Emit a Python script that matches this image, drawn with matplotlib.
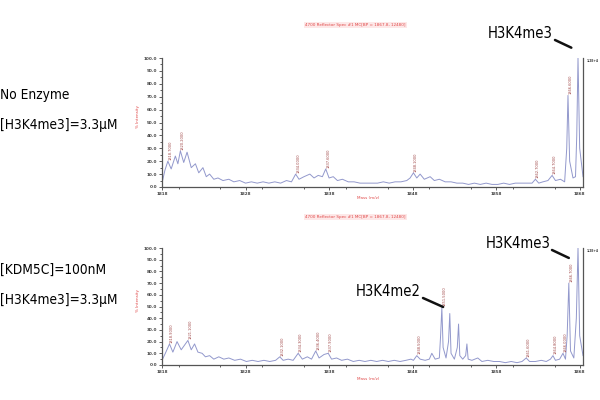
import numpy as np
import matplotlib.pyplot as plt
from matplotlib import font_manager as fm
from matplotlib.ticker import MultipleLocator

# spectrum traces (m/z, % intensity)
mz_top = [1818.0, 1818.35, 1818.7, 1819.1, 1819.6, 1819.9, 1820.2, 1820.6, 1821.0, 1821.5,
          1822.0, 1822.4, 1822.9, 1823.3, 1823.7, 1824.2, 1824.7, 1825.3, 1826.0, 1826.6,
          1827.3, 1828.0, 1828.7, 1829.4, 1830.1, 1830.8, 1831.5, 1832.2, 1832.9, 1833.5,
          1834.0, 1834.4, 1835.0, 1835.7, 1836.2, 1836.7, 1837.2, 1837.6, 1838.0, 1838.5,
          1839.0, 1839.6, 1840.3, 1841.0, 1841.7, 1842.4, 1843.1, 1843.8, 1844.5, 1845.2,
          1845.9, 1846.6, 1847.3, 1847.7, 1848.1, 1848.5, 1848.9, 1849.4, 1850.1, 1850.6,
          1851.2, 1851.9, 1852.6, 1853.3, 1854.0, 1854.7, 1855.4, 1856.1, 1856.8, 1857.5,
          1858.2, 1858.9, 1859.6, 1860.3, 1861.0, 1861.7, 1862.3, 1862.7, 1863.1, 1863.6,
          1864.2, 1864.7, 1865.1, 1865.7, 1866.2, 1866.45, 1866.6, 1866.8, 1867.2, 1867.5,
          1867.65, 1867.8, 1868.0, 1868.4]
int_top = [3, 13, 20, 14, 24, 18, 28, 19, 27, 15,
           18, 11, 15, 8, 10, 6, 7, 5, 6, 4,
           5, 3, 4, 3, 4, 3, 4, 3, 5, 4,
           10, 6, 8, 10, 7, 9, 8, 14, 7, 8,
           5, 6, 4, 4, 3, 3, 3, 3, 4, 3,
           4, 4, 5, 7, 11, 7, 10, 6, 8, 5,
           6, 4, 4, 3, 3, 2, 3, 2, 3, 2,
           2, 3, 2, 3, 3, 3, 3, 6, 3, 4,
           5, 9, 5, 6, 4, 30, 71, 20, 7, 8,
           40, 100, 30, 8]

mz_bot = [1818.0, 1818.4, 1818.9, 1819.3, 1819.8, 1820.3, 1820.7, 1821.1, 1821.5, 1821.9,
          1822.3, 1822.8, 1823.2, 1823.7, 1824.2, 1824.8, 1825.4, 1826.0, 1826.7, 1827.4,
          1828.1, 1828.8, 1829.5, 1830.2, 1830.9, 1831.6, 1832.1, 1832.5, 1833.1, 1833.7,
          1834.3, 1834.8, 1835.4, 1835.9, 1836.4, 1836.8, 1837.4, 1837.9, 1838.3, 1838.9,
          1839.5, 1840.2, 1840.9, 1841.6, 1842.3, 1843.0, 1843.7, 1844.4, 1845.1, 1845.8,
          1846.5, 1847.2, 1847.8, 1848.1, 1848.5, 1848.9, 1849.5, 1850.0, 1850.3, 1850.7,
          1851.2, 1851.35, 1851.5, 1851.65, 1852.0, 1852.3, 1852.45, 1852.6, 1853.0, 1853.35,
          1853.5, 1853.65, 1854.0, 1854.35, 1854.5, 1854.65, 1855.1, 1855.8, 1856.3, 1857.0,
          1857.7, 1858.4, 1859.1, 1859.8, 1860.5, 1861.1, 1861.6, 1862.0, 1862.7, 1863.4,
          1864.0, 1864.5, 1864.8, 1865.1, 1865.6, 1866.0, 1866.3, 1866.5, 1866.7, 1866.9,
          1867.3, 1867.6, 1867.8, 1868.0, 1868.4]
int_bot = [4, 10, 18, 11, 20, 13, 17, 21, 13, 18,
           11, 10, 7, 8, 5, 7, 5, 6, 4, 5,
           3, 4, 3, 4, 3, 4, 7, 4, 5, 4,
           10, 5, 7, 5, 12, 6, 9, 10, 5, 6,
           4, 5, 3, 4, 3, 4, 3, 4, 3, 4,
           3, 4, 5, 4, 8, 5, 4, 5, 10, 5,
           6, 25, 49, 15, 6, 20, 44, 10, 5, 15,
           35, 8, 5, 8, 18, 5, 4, 6, 3, 4,
           3, 3, 2, 3, 2, 3, 6, 3, 3, 4,
           3, 5, 8, 4, 5, 10, 5, 25, 70, 12,
           6, 40, 100, 25, 8]

# peaks carrying a small mass label
labels_top = [1818.7, 1820.2, 1834.0, 1837.6, 1848.1, 1862.7, 1864.7, 1866.6]
labels_bot = [1818.9, 1821.1, 1832.1, 1834.3, 1836.4, 1837.9, 1848.5, 1851.5,
              1861.6, 1864.8, 1866.0, 1866.7]

x_ticks = [1818, 1828, 1838, 1848, 1858, 1868]
y_ticks = [0, 10, 20, 30, 40, 50, 60, 70, 80, 90, 100]

title_txt = "4700 Reflector Spec #1 MC[BP = 1867.8, 12480]"
line_col = '#9298cc'
red = '#e04848'


def find_narrow_font():
    """Look for a condensed sans face, fall back to DejaVu Sans."""
    for f in fm.fontManager.ttflist:
        name = f.name
        if 'Mono' in name or 'Serif' in name or f.style != 'normal':
            continue
        if f.weight not in (400, 'normal', 'regular'):
            continue
        if 'Narrow' in name or 'Condensed' in name or f.stretch in ('condensed', 'semi-condensed'):
            return fm.FontProperties(fname=f.fname)
    return fm.FontProperties(family='DejaVu Sans')


def draw_panel(ax, mz, inten, labels, title_y, xlab_y):
    ax.plot(mz, inten, color=line_col, lw=0.7)
    ax.set_xlim(1818, 1868.4)
    ax.set_ylim(0, 100)
    ax.spines['top'].set_visible(False)
    for s in ['left', 'bottom', 'right']:
        ax.spines[s].set_color('#555555')
        ax.spines[s].set_linewidth(0.9)
    ax.set_xticks(x_ticks)
    ax.set_xticklabels([str(t) for t in x_ticks])
    ax.set_yticks(y_ticks)
    ax.set_yticklabels([f"{t:.1f}" for t in y_ticks])
    ax.xaxis.set_minor_locator(MultipleLocator(5))
    ax.yaxis.set_minor_locator(MultipleLocator(5))
    ax.tick_params(which='both', direction='out', labelsize=3, colors='#444444',
                   length=2.5, width=0.6, pad=1)
    ax.tick_params(which='minor', length=1.5)
    for lab in ax.get_xticklabels() + ax.get_yticklabels():
        lab.set_fontweight('bold')
    for m in labels:
        h = np.interp(m, mz, inten)
        ax.text(m + 0.3, h + 1, f"{m:.4f}", rotation=90, fontsize=2.6,
                color='#a04848', ha='center', va='bottom')
    ax.text(1.008, 0.97, "1.2E+4", transform=ax.transAxes, fontsize=2.2,
            color='#333333', fontweight='bold')
    ax.text(-0.058, 0.55, "% Intensity", transform=ax.transAxes, rotation=90,
            fontsize=3, color=red, ha='center', va='center')
    fig.text(0.592, title_y, title_txt, fontsize=3, color=red, ha='center',
             va='center', bbox=dict(facecolor='#fde8e8', edgecolor='none', pad=1))
    fig.text(0.613, xlab_y, "Mass (m/z)", fontsize=3, color=red, ha='center',
             va='center')


fig = plt.figure(figsize=(6, 4), dpi=100)
ax1 = fig.add_axes([0.27, 0.5325, 0.7017, 0.3225])
ax2 = fig.add_axes([0.27, 0.0875, 0.7017, 0.2925])

draw_panel(ax1, mz_top, int_top, labels_top, 0.9375, 0.505)
draw_panel(ax2, mz_bot, int_bot, labels_bot, 0.4575, 0.0525)

narrow = find_narrow_font()

# condition labels
cond = [
    fig.text(0.0, 1 - 95 / 400, "No Enzyme", va='center', ha='left'),
    fig.text(0.0, 1 - 125 / 400, "[H3K4me3]=3.3\u03bcM", va='center', ha='left'),
    fig.text(0.0, 1 - 270 / 400, "[KDM5C]=100nM", va='center', ha='left'),
    fig.text(0.0, 1 - 300 / 400, "[H3K4me3]=3.3\u03bcM", va='center', ha='left'),
]

# peak call-outs
arrow = dict(arrowstyle='-', lw=1.8, color='#111111', shrinkA=0, shrinkB=0)
ax1.annotate('', xy=(1867.0, 108), xytext=(555 / 600, 1 - 40 / 400),
             textcoords='figure fraction', arrowprops=arrow, annotation_clip=False)
ax2.annotate('', xy=(1866.7, 91.5), xytext=(552 / 600, 1 - 250 / 400),
             textcoords='figure fraction', arrowprops=arrow, annotation_clip=False)
ax2.annotate('', xy=(1851.65, 49.6), xytext=(423 / 600, 1 - 298 / 400),
             textcoords='figure fraction', arrowprops=arrow, annotation_clip=False)
callouts = [
    fig.text(553 / 600, 1 - 33 / 400, "H3K4me3", ha='right', va='center'),
    fig.text(551 / 600, 1 - 243 / 400, "H3K4me3", ha='right', va='center'),
    fig.text(421 / 600, 1 - 291 / 400, "H3K4me2", ha='right', va='center'),
]

# size the big labels so their widths match the picture
for t in cond + callouts:
    t.set_fontproperties(narrow.copy())
    t.set_fontsize(12)
fig.canvas.draw()
rend = fig.canvas.get_renderer()
cond_scale = 118 / cond[1].get_window_extent(rend).width
call_scale = 65 / callouts[0].get_window_extent(rend).width
for t in cond:
    t.set_fontsize(min(13, 12 * cond_scale))
for t in callouts:
    t.set_fontsize(min(14, 12 * call_scale))

fig.savefig("out.png", dpi=100)
